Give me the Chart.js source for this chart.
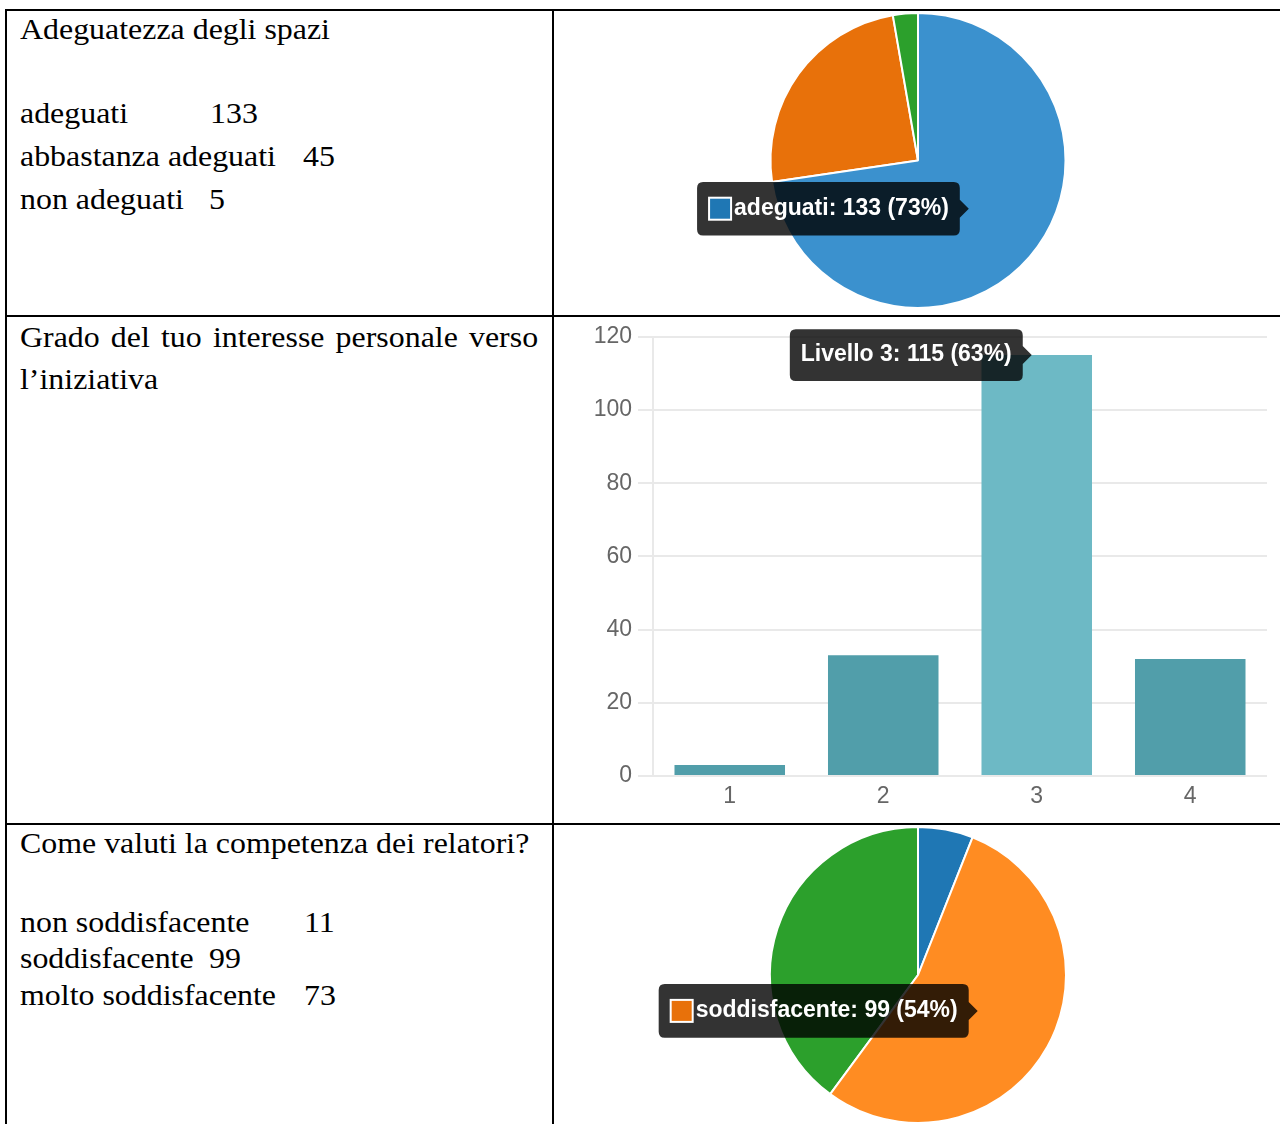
<!DOCTYPE html>
<html>
<head>
<meta charset="utf-8">
<script src="https://cdn.jsdelivr.net/npm/chart.js@4.4.0/dist/chart.umd.min.js"></script>
<style>
  html, body { margin: 0; padding: 0; background: #fff; }
  body { width: 1280px; height: 1124px; position: relative; overflow: hidden; }
  .ln { position: absolute; background: #000; }
  .t {
    position: absolute;
    font-family: "Liberation Serif", "Times New Roman", serif;
    font-size: 29px; line-height: 29px;
    white-space: nowrap; color: #000;
    transform: scaleX(1.1); transform-origin: 0 0;
  }
  .just { white-space: normal; text-align: justify; line-height: 42px; width: 471px; }
  .box { position: absolute; }
</style>
</head>
<body>

<!-- griglia della tabella -->
<div class="ln" style="left:5px;top:9px;width:1275px;height:2px"></div>
<div class="ln" style="left:5px;top:315px;width:1275px;height:2px"></div>
<div class="ln" style="left:5px;top:823px;width:1275px;height:2px"></div>
<div class="ln" style="left:5px;top:9px;width:2px;height:1115px"></div>
<div class="ln" style="left:552px;top:9px;width:2px;height:1115px"></div>

<!-- riga 1 -->
<div class="t" style="left:20px;top:15px">Adeguatezza degli spazi</div>
<div class="t" style="left:20px;top:99px">adeguati</div>
<div class="t" style="left:210px;top:99px">133</div>
<div class="t" style="left:20px;top:142px">abbastanza adeguati</div>
<div class="t" style="left:303px;top:142px">45</div>
<div class="t" style="left:20px;top:185px">non adeguati</div>
<div class="t" style="left:209px;top:185px">5</div>

<!-- riga 2 -->
<div class="t just" style="left:20px;top:316px">Grado del tuo interesse personale verso l’iniziativa</div>

<!-- riga 3 -->
<div class="t" style="left:20px;top:829px">Come valuti la competenza dei relatori?</div>
<div class="t" style="left:20px;top:908px">non soddisfacente</div>
<div class="t" style="left:304px;top:908px">11</div>
<div class="t" style="left:20px;top:944px">soddisfacente</div>
<div class="t" style="left:209px;top:944px">99</div>
<div class="t" style="left:20px;top:981px">molto soddisfacente</div>
<div class="t" style="left:304px;top:981px">73</div>

<div class="box" style="left:555px;top:12px;width:725px;height:302px"><canvas id="pieSpazi"></canvas></div>
<div class="box" style="left:560px;top:317px;width:720px;height:503px"><canvas id="barInteresse"></canvas></div>
<div class="box" style="left:555px;top:826px;width:725px;height:298px"><canvas id="pieRelatori"></canvas></div>

<script>
// dati
const spaziLabels = ['adeguati', 'abbastanza adeguati', 'non adeguati'];
const spaziValues = [133, 45, 5];

const livelliLabels = ['1', '2', '3', '4'];
const livelliValues = [3, 33, 115, 32];
const yMax = 120;
const yStep = 20;

const relatoriLabels = ['non soddisfacente', 'soddisfacente', 'molto soddisfacente'];
const relatoriValues = [11, 99, 73];

// colori
const pieColors = ['#1f77b4', '#e8710a', '#2ca02c'];
const pieHover = ['#3b91ce', '#ff8c22', '#3cb33c'];
const barColor = '#519eaa';
const barHover = '#6db9c5';

const sansFont = "'Liberation Sans', Arial, sans-serif";
Chart.defaults.font.family = sansFont;

const tipStyle = {
    backgroundColor: 'rgba(0,0,0,0.8)',
    bodyColor: '#fff',
    bodyFont: { family: sansFont, size: 23, weight: 'bold' },
    padding: { top: 12, bottom: 12, left: 11, right: 11 },
    cornerRadius: 6,
    caretSize: 9,
    caretPadding: 5,
    boxWidth: 22,
    boxHeight: 22,
    boxPadding: 1,
    xAlign: 'right',
    yAlign: 'center'
};

function percent(values, v) {
    const tot = values.reduce((a, b) => a + b, 0);
    return Math.round(v / tot * 100);
}

// mostra il tooltip fisso su un elemento
function showTip(chart, index) {
    const active = [{ datasetIndex: 0, index: index }];
    chart.tooltip.setActiveElements(active, { x: 0, y: 0 });
    chart.setActiveElements(active);
    chart.update();
}

function makePie(id, labels, values, pad, activeIdx) {
    const chart = new Chart(document.getElementById(id), {
        type: 'pie',
        data: {
            labels: labels,
            datasets: [{
                data: values,
                backgroundColor: pieColors,
                hoverBackgroundColor: pieHover,
                borderColor: '#fff',
                hoverBorderColor: '#fff',
                borderWidth: 2,
                hoverOffset: 0
            }]
        },
        options: {
            responsive: true,
            maintainAspectRatio: false,
            animation: false,
            events: [],
            layout: { padding: pad },
            plugins: {
                legend: { display: false },
                tooltip: Object.assign({}, tipStyle, {
                    displayColors: true,
                    padding: { top: 13, bottom: 13, left: 12, right: 11 },
                    callbacks: {
                        title: () => '',
                        label: ctx => `${ctx.label}: ${ctx.raw} (${percent(values, ctx.raw)}%)`,
                        labelColor: ctx => ({
                            borderColor: '#fff',
                            backgroundColor: pieColors[ctx.dataIndex],
                            borderWidth: 2,
                            borderRadius: 0
                        })
                    }
                })
            }
        }
    });
    showTip(chart, activeIdx);
    return chart;
}

makePie('pieSpazi', spaziLabels, spaziValues, { left: 214, right: 213, top: 0, bottom: 5 }, 0);
makePie('pieRelatori', relatoriLabels, relatoriValues, { left: 214, right: 213, top: 0, bottom: 0 }, 1);

// grafico a barre
const barChart = new Chart(document.getElementById('barInteresse'), {
    type: 'bar',
    data: {
        labels: livelliLabels,
        datasets: [{
            data: livelliValues,
            backgroundColor: barColor,
            hoverBackgroundColor: barHover,
            borderWidth: 0,
            categoryPercentage: 0.8,
            barPercentage: 0.9
        }]
    },
    options: {
        responsive: true,
        maintainAspectRatio: false,
        animation: false,
        events: [],
        layout: { padding: { top: 11, right: 13, left: 0, bottom: 0 } },
        plugins: {
            legend: { display: false },
            tooltip: Object.assign({}, tipStyle, {
                displayColors: false,
                callbacks: {
                    title: () => '',
                    label: ctx => `Livello ${ctx.label}: ${ctx.raw} (${percent(livelliValues, ctx.raw)}%)`
                }
            })
        },
        scales: {
            y: {
                min: 0,
                max: yMax,
                ticks: { stepSize: yStep, color: '#666', font: { size: 23 }, padding: 6 },
                grid: { color: '#e9e9e9', lineWidth: 2, tickLength: 15 },
                border: { color: '#e9e9e9', width: 2 },
                afterFit: s => { s.width = 93; }
            },
            x: {
                grid: { display: false, drawTicks: false },
                border: { display: false },
                ticks: { color: '#666', font: { size: 23 }, padding: 7 },
                afterFit: s => { s.height = 44; }
            }
        }
    }
});
showTip(barChart, 2);
</script>
</body>
</html>
